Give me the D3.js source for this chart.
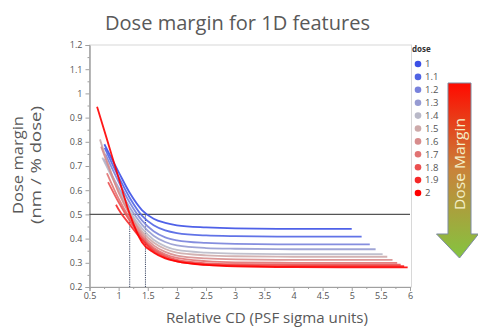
<!DOCTYPE html>
<html><head><meta charset="utf-8">
<script src="https://cdn.jsdelivr.net/npm/d3@7"></script>
<style>body{margin:0;background:#fff}svg{display:block}</style>
</head><body><svg id="c" width="478" height="331"></svg>
<script>
// ---- data ----
const doseLabels = ["1","1.1","1.2","1.3","1.4","1.5","1.6","1.7","1.8","1.9","2"];
const doseColors = ["#3c50e6","#5064e4","#7882dc","#969bd2","#b9b9c8","#cdaaaa","#d78c8c","#e17373","#eb5050","#f52828","#ff0000"];
const yTicks = [0.2,0.3,0.4,0.5,0.6,0.7,0.8,0.9,1,1.1,1.2];
const xTicks = [0.5,1,1.5,2,2.5,3,3.5,4,4.5,5,5.5,6];
const threshold = 0.5;
const crossCD = [1.19, 1.46];

const dose1_0 = [[0.755,0.79],[1.0,0.675],[1.2,0.585],[1.4,0.518],[1.6,0.482],[1.8,0.465],[2.0,0.455],[2.5,0.446],[3.0,0.442],[4.0,0.44],[5.0,0.44]];
const dose1_1 = [[0.76,0.775],[1.0,0.655],[1.2,0.565],[1.4,0.495],[1.6,0.455],[1.8,0.434],[2.0,0.423],[2.5,0.413],[3.0,0.41],[4.0,0.408],[5.17,0.408]];
const dose1_2 = [[0.77,0.75],[1.0,0.635],[1.2,0.545],[1.4,0.475],[1.6,0.43],[1.8,0.405],[2.0,0.393],[2.5,0.382],[3.0,0.378],[4.0,0.376],[5.31,0.376]];
const dose1_3 = [[0.74,0.73],[1.0,0.61],[1.2,0.525],[1.4,0.458],[1.6,0.412],[1.8,0.386],[2.0,0.372],[2.5,0.361],[3.0,0.358],[4.0,0.356],[5.41,0.356]];
const dose1_4 = [[0.72,0.735],[1.0,0.6],[1.2,0.51],[1.4,0.442],[1.6,0.395],[1.8,0.368],[2.0,0.353],[2.5,0.342],[3.0,0.338],[4.0,0.336],[5.53,0.336]];
const dose1_5 = [[0.68,0.81],[0.8,0.72],[1.0,0.595],[1.2,0.5],[1.4,0.43],[1.6,0.384],[1.8,0.357],[2.0,0.342],[2.5,0.331],[3.0,0.327],[4.0,0.325],[5.61,0.325]];
const dose1_6 = [[0.7,0.78],[0.8,0.715],[1.0,0.59],[1.2,0.495],[1.4,0.42],[1.6,0.372],[1.8,0.345],[2.0,0.33],[2.5,0.318],[3.0,0.314],[4.0,0.312],[5.7,0.312]];
const dose1_7 = [[0.8,0.67],[1.0,0.565],[1.2,0.48],[1.4,0.41],[1.6,0.362],[1.8,0.335],[2.0,0.32],[2.5,0.307],[3.0,0.302],[4.0,0.3],[5.78,0.3]];
const dose1_8 = [[0.82,0.633],[1.0,0.55],[1.2,0.47],[1.4,0.402],[1.6,0.355],[1.8,0.328],[2.0,0.312],[2.5,0.298],[3.0,0.294],[4.0,0.292],[5.84,0.292]];
const dose1_9 = [[0.955,0.54],[1.0,0.52],[1.2,0.455],[1.4,0.395],[1.6,0.348],[1.8,0.322],[2.0,0.306],[2.5,0.292],[3.0,0.288],[4.0,0.286],[5.9,0.286]];
const dose2_0 = [[0.63,0.945],[0.8,0.81],[1.0,0.65],[1.2,0.495],[1.4,0.385],[1.6,0.342],[1.8,0.318],[2.0,0.306],[2.5,0.291],[3.0,0.285],[4.0,0.282],[5.96,0.281]];
const seriesList = [dose1_0,dose1_1,dose1_2,dose1_3,dose1_4,dose1_5,dose1_6,dose1_7,dose1_8,dose1_9,dose2_0];

// ---- drawing ----
const svg = d3.select("#c");
const FONT = "'Open Sans', 'Noto Sans', sans-serif";
const x = d3.scaleLinear().domain([0.5,6]).range([89.5,410]);
const y = d3.scaleLinear().domain([0.2,1.2]).range([287,45]);

// frame
svg.append("rect").attr("x",89.5).attr("y",45).attr("width",322).attr("height",242)
  .attr("fill","none").attr("stroke","#d8d8d8").attr("stroke-width",1);

// title
svg.append("text").attr("x",237.5).attr("y",30).attr("text-anchor","middle")
  .attr("font-family",FONT).attr("font-size",20).attr("fill","#595959")
  .attr("textLength",265).attr("lengthAdjust","spacingAndGlyphs")
  .text("Dose margin for 1D features");

// axis labels
svg.append("text").attr("x",267).attr("y",323).attr("text-anchor","middle")
  .attr("font-family",FONT).attr("font-size",15).attr("fill","#595959")
  .attr("textLength",202).attr("lengthAdjust","spacingAndGlyphs")
  .text("Relative CD (PSF sigma units)");
svg.append("text").attr("transform","translate(23,165) rotate(-90)").attr("text-anchor","middle")
  .attr("font-family",FONT).attr("font-size",15).attr("fill","#595959")
  .attr("textLength",98).attr("lengthAdjust","spacingAndGlyphs")
  .text("Dose margin");
svg.append("text").attr("transform","translate(41,165) rotate(-90)").attr("text-anchor","middle")
  .attr("font-family",FONT).attr("font-size",15).attr("fill","#595959")
  .attr("textLength",118).attr("lengthAdjust","spacingAndGlyphs")
  .text("(nm / % dose)");

// axes
const fmt = d => (Math.round(d*10)/10).toString();
const yAxis = d3.axisLeft(y).tickValues(yTicks).tickFormat(fmt).tickSize(4).tickPadding(3);
const gy = svg.append("g").attr("transform","translate(89.5,0)").call(yAxis);
const yMinor = d3.axisLeft(y).tickValues(d3.range(0.25,1.2,0.1)).tickFormat("").tickSize(2);
svg.append("g").attr("transform","translate(89.5,0)").call(yMinor);
const xAxis = d3.axisBottom(x).tickValues(xTicks).tickFormat(d=>d.toString()).tickSize(4).tickPadding(2);
const gx = svg.append("g").attr("transform","translate(0,287)").call(xAxis);
const xMinor = d3.axisBottom(x).tickValues(d3.range(0.75,6,0.5)).tickFormat("").tickSize(2);
svg.append("g").attr("transform","translate(0,287)").call(xMinor);
svg.selectAll(".domain").attr("stroke","#a0a0a0");
svg.selectAll(".tick line").attr("stroke","#a0a0a0");
svg.selectAll(".tick text").attr("font-family",FONT).attr("font-size",9).attr("fill","#555");

// reference lines
svg.append("line").attr("x1",x(0.5)).attr("x2",x(6)).attr("y1",y(threshold)).attr("y2",y(threshold))
  .attr("stroke","#555").attr("stroke-width",1.2);
crossCD.forEach(c=>{
  svg.append("line").attr("x1",x(c)).attr("x2",x(c)).attr("y1",y(0.2)).attr("y2",y(threshold))
    .attr("stroke","#3e4a66").attr("stroke-width",1).attr("stroke-dasharray","1.2,1");
});

// curves
const line = d3.line().x(d=>x(d[0])).y(d=>y(d[1])).curve(d3.curveMonotoneX);
seriesList.forEach((s,i)=>{
  svg.append("path").attr("d",line(s)).attr("fill","none")
    .attr("stroke",doseColors[i]).attr("stroke-width",1.8).attr("stroke-opacity",0.9);
});

// legend
svg.append("text").attr("x",412).attr("y",52).attr("font-family",FONT).attr("font-size",8)
  .attr("font-weight","bold").attr("fill","#333").text("dose");
doseLabels.forEach((d,i)=>{
  const yy = 64 + i*12.9;
  svg.append("circle").attr("cx",418).attr("cy",yy).attr("r",3.3).attr("fill",doseColors[i]);
  svg.append("text").attr("x",425).attr("y",yy+3.3).attr("font-family",FONT).attr("font-size",9.5)
    .attr("fill","#555").text(d);
});

// arrow
const defs = svg.append("defs");
const grad = defs.append("linearGradient").attr("id","ag").attr("x1",0).attr("y1",0).attr("x2",0).attr("y2",1);
grad.append("stop").attr("offset","0%").attr("stop-color","#ff0a00");
grad.append("stop").attr("offset","50%").attr("stop-color","#c8843a");
grad.append("stop").attr("offset","100%").attr("stop-color","#84c440");
const cx = 459.5;
const pts = [[cx-11.5,83],[cx+11.5,83],[cx+11.5,234],[cx+19,234],[cx,258],[cx-23,234],[cx-11.5,234]];
svg.append("path").attr("d","M"+pts.map(p=>p.join(",")).join("L")+"Z")
  .attr("fill","url(#ag)").attr("stroke","#7d8ba0").attr("stroke-width",1);
svg.append("text").attr("transform",`translate(${cx+5.5},164) rotate(-90)`).attr("text-anchor","middle")
  .attr("font-family",FONT).attr("font-size",15).attr("fill","#f4f0c8")
  .attr("textLength",92).attr("lengthAdjust","spacingAndGlyphs").text("Dose Margin");
</script></body></html>
